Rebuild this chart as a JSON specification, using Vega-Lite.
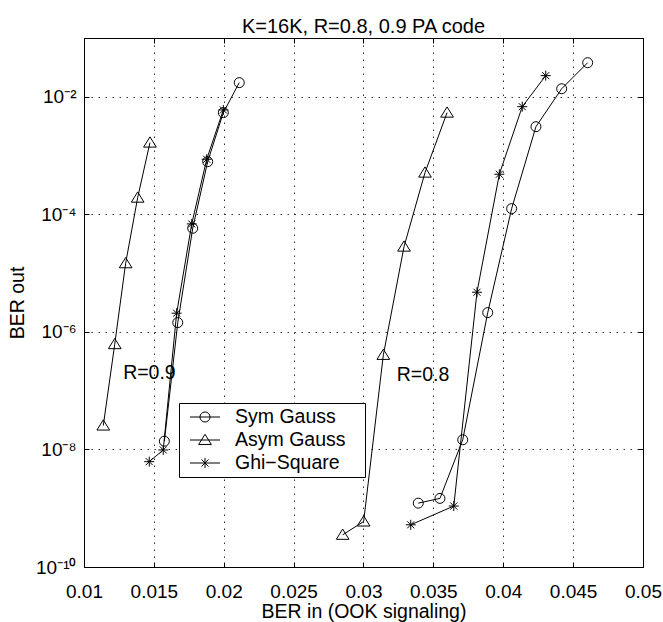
{
  "$schema": "https://vega.github.io/schema/vega-lite/v6.json",
  "width": 559,
  "height": 529,
  "autosize": {"type": "none"},
  "padding": {"left": 84, "top": 38, "right": 20, "bottom": 55},
  "background": "white",
  "title": {"text": "K=16K, R=0.8, 0.9 PA code", "fontSize": 20, "fontWeight": "normal", "font": "Liberation Sans", "color": "black", "offset": 1},
  "config": {
    "view": {"stroke": "black", "strokeWidth": 1},
    "font": "Liberation Sans",
    "axis": {"domainColor": "black", "tickColor": "black", "labelColor": "black", "titleColor": "black", "labelFont": "Liberation Sans", "titleFont": "Liberation Sans", "labelFontSize": 19, "titleFontSize": 19.5, "titleFontWeight": "normal", "gridColor": "#333", "gridDash": [1.5, 5.5], "gridWidth": 1, "gridOpacity": 1, "tickSize": -5, "labelFlush": false, "labelOverlap": false}
  },
  "data": {"values": [
    {"x": 0.01575, "y": 1.38e-8, "series": "Sym Gauss", "r": "0.9"},
    {"x": 0.01671, "y": 1.44e-6, "series": "Sym Gauss", "r": "0.9"},
    {"x": 0.01778, "y": 5.8e-5, "series": "Sym Gauss", "r": "0.9"},
    {"x": 0.01885, "y": 7.87e-4, "series": "Sym Gauss", "r": "0.9"},
    {"x": 0.01997, "y": 5.37e-3, "series": "Sym Gauss", "r": "0.9"},
    {"x": 0.02111, "y": 1.74e-2, "series": "Sym Gauss", "r": "0.9"},
    {"x": 0.01138, "y": 2.55e-8, "series": "Asym Gauss", "r": "0.9"},
    {"x": 0.01220, "y": 6.18e-7, "series": "Asym Gauss", "r": "0.9"},
    {"x": 0.01298, "y": 1.47e-5, "series": "Asym Gauss", "r": "0.9"},
    {"x": 0.01384, "y": 1.92e-4, "series": "Asym Gauss", "r": "0.9"},
    {"x": 0.01472, "y": 1.66e-3, "series": "Asym Gauss", "r": "0.9"},
    {"x": 0.01467, "y": 6.2e-9, "series": "Ghi−Square", "r": "0.9"},
    {"x": 0.01567, "y": 9.8e-9, "series": "Ghi−Square", "r": "0.9"},
    {"x": 0.01663, "y": 2.08e-6, "series": "Ghi−Square", "r": "0.9"},
    {"x": 0.01771, "y": 6.87e-5, "series": "Ghi−Square", "r": "0.9"},
    {"x": 0.01878, "y": 8.65e-4, "series": "Ghi−Square", "r": "0.9"},
    {"x": 0.01997, "y": 5.97e-3, "series": "Ghi−Square", "r": "0.9"},
    {"x": 0.02851, "y": 3.53e-10, "series": "Asym Gauss", "r": "0.8"},
    {"x": 0.03001, "y": 5.94e-10, "series": "Asym Gauss", "r": "0.8"},
    {"x": 0.03142, "y": 4.06e-7, "series": "Asym Gauss", "r": "0.8"},
    {"x": 0.03290, "y": 2.82e-5, "series": "Asym Gauss", "r": "0.8"},
    {"x": 0.03440, "y": 5.12e-4, "series": "Asym Gauss", "r": "0.8"},
    {"x": 0.03598, "y": 5.37e-3, "series": "Asym Gauss", "r": "0.8"},
    {"x": 0.03392, "y": 1.22e-9, "series": "Sym Gauss", "r": "0.8"},
    {"x": 0.03547, "y": 1.47e-9, "series": "Sym Gauss", "r": "0.8"},
    {"x": 0.03710, "y": 1.46e-8, "series": "Sym Gauss", "r": "0.8"},
    {"x": 0.03889, "y": 2.13e-6, "series": "Sym Gauss", "r": "0.8"},
    {"x": 0.04060, "y": 1.25e-4, "series": "Sym Gauss", "r": "0.8"},
    {"x": 0.04234, "y": 3.1e-3, "series": "Sym Gauss", "r": "0.8"},
    {"x": 0.04418, "y": 1.37e-2, "series": "Sym Gauss", "r": "0.8"},
    {"x": 0.04604, "y": 3.8e-2, "series": "Sym Gauss", "r": "0.8"},
    {"x": 0.03338, "y": 5.22e-10, "series": "Ghi−Square", "r": "0.8"},
    {"x": 0.03646, "y": 1.09e-9, "series": "Ghi−Square", "r": "0.8"},
    {"x": 0.03812, "y": 4.73e-6, "series": "Ghi−Square", "r": "0.8"},
    {"x": 0.03972, "y": 4.81e-4, "series": "Ghi−Square", "r": "0.8"},
    {"x": 0.04136, "y": 6.79e-3, "series": "Ghi−Square", "r": "0.8"},
    {"x": 0.04304, "y": 2.29e-2, "series": "Ghi−Square", "r": "0.8"}
  ]},
  "layer": [
    {
      "mark": {"type": "line", "color": "black", "strokeWidth": 1},
      "encoding": {
        "x": {"field": "x", "type": "quantitative", "scale": {"domain": [0.01, 0.05], "nice": false, "zero": false},
              "axis": {"orient": "bottom", "values": [0.01, 0.015, 0.02, 0.025, 0.03, 0.035, 0.04, 0.045, 0.05], "format": ".3~f", "grid": true, "labelPadding": 20, "title": "BER in (OOK signaling)", "titlePadding": 1}},
        "y": {"field": "y", "type": "quantitative", "scale": {"type": "log", "domain": [1e-10, 0.1], "nice": false},
              "axis": {"orient": "left", "values": [1e-10, 1e-8, 1e-6, 1e-4, 1e-2], "grid": true, "labelPadding": 13, "labelExpr": "datum.value < 1e-9 ? '10⁻¹⁰' : datum.value < 1e-7 ? '10⁻⁸' : datum.value < 1e-5 ? '10⁻⁶' : datum.value < 1e-3 ? '10⁻⁴' : '10⁻²'", "title": "BER out", "titlePadding": 8}},
        "detail": [{"field": "series"}, {"field": "r"}]
      }
    },
    {
      "mark": {"type": "point", "filled": false, "color": "black", "strokeWidth": 1, "size": 100, "opacity": 1},
      "encoding": {
        "x": {"field": "x", "type": "quantitative", "axis": {"orient": "top", "values": [0.01, 0.015, 0.02, 0.025, 0.03, 0.035, 0.04, 0.045, 0.05], "labels": false, "grid": false, "title": null}},
        "y": {"field": "y", "type": "quantitative", "axis": {"orient": "right", "values": [1e-10, 1e-8, 1e-6, 1e-4, 1e-2], "labels": false, "grid": false, "title": null}},
        "shape": {"field": "series", "type": "nominal",
                  "scale": {"domain": ["Sym Gauss", "Asym Gauss", "Ghi−Square"],
                            "range": ["M1,0A1,1 0 1,1 -1,0A1,1 0 1,1 1,0Z", "M0,-1.15L1.27,0.9L-1.27,0.9Z", "M-1,0H1M0,-1V1M-0.7,-0.7L0.7,0.7M-0.7,0.7L0.7,-0.7"]},
                  "legend": null}
      }
    },
    {
      "mark": {"type": "point", "filled": false, "color": "black", "opacity": 0},
      "encoding": {
        "x": {"field": "x", "type": "quantitative", "axis": null},
        "y": {"field": "y", "type": "quantitative", "axis": null},
        "shape": {"field": "series", "type": "nominal",
                  "scale": {"domain": ["Sym Gauss", "Asym Gauss", "Ghi−Square"],
                            "range": ["M-1.58,0H1.58M0.53,0A0.53,0.53 0 1,1 -0.53,0A0.53,0.53 0 1,1 0.53,0Z", "M-1.58,0H1.58M0,-0.6L0.67,0.47L-0.67,0.47Z", "M-1.58,0H1.58M0,-0.53V0.53M-0.37,-0.37L0.37,0.37M-0.37,0.37L0.37,-0.37"]},
                  "legend": {"title": null, "orient": "none", "legendX": 95, "legendY": 365, "symbolSize": 361, "symbolStrokeWidth": 1, "symbolStrokeColor": "black", "symbolFillColor": "transparent", "symbolOpacity": 1, "labelFontSize": 19.5, "labelFont": "Liberation Sans", "labelColor": "black", "labelOffset": 20, "symbolOffset": 12, "padding": 4, "rowPadding": 3, "strokeColor": "black", "fillColor": "white", "labelExpr": "datum.label + '\u2800'"}}
      }
    },
    {
      "data": {"values": [{"x": 0.0128, "y": 2.03e-7, "label": "R=0.9"}, {"x": 0.03238, "y": 1.86e-7, "label": "R=0.8"}]},
      "mark": {"type": "text", "align": "left", "baseline": "middle", "fontSize": 19.5, "font": "Liberation Sans", "color": "black"},
      "encoding": {
        "x": {"field": "x", "type": "quantitative", "axis": null},
        "y": {"field": "y", "type": "quantitative", "axis": null},
        "text": {"field": "label"}
      }
    }
  ],
  "resolve": {"scale": {"shape": "independent"}, "axis": {"x": "independent", "y": "independent"}}
}
